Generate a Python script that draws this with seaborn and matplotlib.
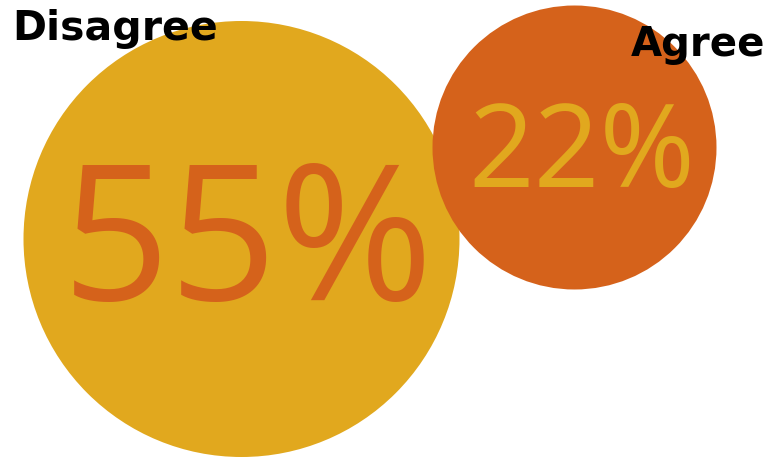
import matplotlib
matplotlib.use("Agg")
import matplotlib.pyplot as plt
from matplotlib import font_manager as fm
import seaborn as sns
import pandas as pd

# ---- data ----
labels = ["Disagree", "Agree"]
values = [55, 22]
pct_text = ["55%", "22%"]
# packed-bubble layout centres (pixel space)
x_pos = [241.5, 574.5]
y_pos = [240.0, 148.5]

# ---- style ----
colors = {"Disagree": "#E1A81E", "Agree": "#D5621B"}
text_colors = {"Disagree": "#D5621B", "Agree": "#E1A81E"}
radius_px = {"Disagree": 218, "Agree": 142}
DPI = 100

df = pd.DataFrame({"label": labels, "value": values, "x": x_pos, "y": y_pos})

sns.set_theme(style="white")
fig = plt.figure(figsize=(7.68, 4.6), dpi=DPI)
ax = fig.add_axes([0, 0, 1, 1])

# marker area in pt^2 from pixel radius
sizes = {lab: (2 * radius_px[lab] * 72 / DPI) ** 2 for lab in labels}

sns.scatterplot(data=df, x="x", y="y", hue="label", palette=colors,
                size="label", sizes=sizes, linewidth=0, alpha=1,
                legend=False, ax=ax)

ax.set_xlim(0, 768)
ax.set_ylim(460, 0)
ax.set_axis_off()

try:
    num_path = fm.findfont(fm.FontProperties(family="Open Sans"),
                           fallback_to_default=False)
    fp_big = fm.FontProperties(fname=num_path, size=136)
    fp_small = fm.FontProperties(fname=num_path, size=83)
except Exception:
    fp_big = fm.FontProperties(family="DejaVu Sans", size=136)
    fp_small = fm.FontProperties(family="DejaVu Sans", size=83)

# percentage numbers
ax.text(248, 300, pct_text[0], ha="center", va="baseline",
        fontproperties=fp_big, color=text_colors["Disagree"])
ax.text(582, 187, pct_text[1], ha="center", va="baseline",
        fontproperties=fp_small, color=text_colors["Agree"])

# labels
ax.text(12, 40, labels[0], ha="left", va="baseline", fontsize=29.5,
        fontweight="bold", family="DejaVu Sans", color="black")
ax.text(631, 56, labels[1], ha="left", va="baseline", fontsize=29,
        fontweight="bold", family="DejaVu Sans", color="black")

fig.savefig("out.png", dpi=DPI)
